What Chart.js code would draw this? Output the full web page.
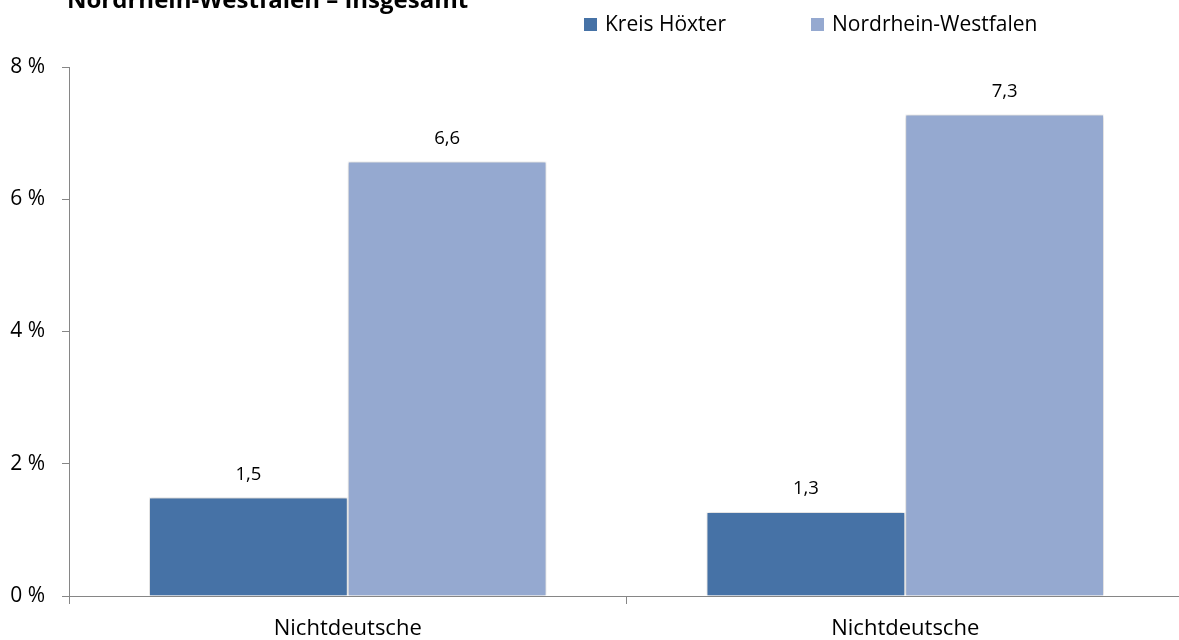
<!DOCTYPE html>
<html>
<head>
<meta charset="utf-8">
<script src="https://cdn.jsdelivr.net/npm/chart.js@4/dist/chart.umd.min.js"></script>
<style>
  html, body { margin: 0; padding: 0; background: #fff; overflow: hidden; }
  #wrap { width: 1184px; height: 640px; }
</style>
</head>
<body>
<div id="wrap"><canvas id="c" width="1184" height="640"></canvas></div>
<script>
const chartTitle = 'Nordrhein-Westfalen – Insgesamt';
const categories = ['Nichtdeutsche', 'Nichtdeutsche'];
const seriesNames = ['Kreis Höxter', 'Nordrhein-Westfalen'];
const kreisHoexter = [1.49, 1.27];
const nordrheinWestfalen = [6.57, 7.28];
const seriesColors = ['#4672A6', '#95A9D0'];
const yTicks = [0, 2, 4, 6, 8];

const FONT = "'Open Sans', 'Noto Sans', sans-serif";
const AXIS = '#868686';

const fmt = v => v.toFixed(1).replace('.', ',');

const shadowPlugin = {
  id: 'barShadow',
  beforeDatasetsDraw(chart) {
    const ctx = chart.ctx;
    ctx.save();
    ctx.shadowColor = 'rgba(0,0,0,0.28)';
    ctx.shadowBlur = 4;
    ctx.shadowOffsetX = 0;
    ctx.shadowOffsetY = 0;
  },
  afterDatasetsDraw(chart) {
    chart.ctx.restore();
  }
};

const labelsPlugin = {
  id: 'valueLabels',
  afterDatasetsDraw(chart) {
    const ctx = chart.ctx;
    ctx.save();
    ctx.font = '18.5px ' + FONT;
    ctx.fillStyle = '#000';
    ctx.textAlign = 'center';
    ctx.textBaseline = 'middle';
    chart.data.datasets.forEach((ds, i) => {
      chart.getDatasetMeta(i).data.forEach((bar, j) => {
        ctx.fillText(fmt(ds.data[j]), bar.x, bar.y - 23);
      });
    });
    ctx.restore();
  }
};

const titleLegendPlugin = {
  id: 'titleLegend',
  afterDraw(chart) {
    const ctx = chart.ctx;
    ctx.save();
    // title (partially cut off at top, like reference)
    ctx.font = 'bold 24px ' + FONT;
    ctx.fillStyle = '#000';
    ctx.textAlign = 'left';
    ctx.textBaseline = 'alphabetic';
    ctx.fillText(chartTitle, 67, 8);
    // legend
    ctx.font = '21px ' + FONT;
    ctx.textBaseline = 'middle';
    const starts = [584, 811];
    chart.data.datasets.forEach((ds, i) => {
      const x = starts[i];
      ctx.fillStyle = ds.backgroundColor;
      ctx.fillRect(x, 18, 13, 13);
      ctx.fillStyle = '#000';
      ctx.fillText(ds.label, x + 21, 25);
    });
    ctx.restore();
  }
};

new Chart(document.getElementById('c'), {
  type: 'bar',
  data: {
    labels: categories,
    datasets: [
      { label: seriesNames[0], data: kreisHoexter, backgroundColor: seriesColors[0], borderColor: '#ffffff', borderWidth: 1 },
      { label: seriesNames[1], data: nordrheinWestfalen, backgroundColor: seriesColors[1], borderColor: '#ffffff', borderWidth: 1 }
    ]
  },
  options: {
    responsive: false,
    animation: false,
    devicePixelRatio: 1,
    layout: { padding: { top: 67, left: 0, right: 0, bottom: 0 } },
    datasets: { bar: { categoryPercentage: 0.713, barPercentage: 1.0 } },
    plugins: {
      legend: { display: false },
      title: { display: false },
      tooltip: { enabled: false }
    },
    scales: {
      x: {
        grid: { display: true, drawOnChartArea: false, drawTicks: true, tickLength: 8, color: AXIS, offset: true },
        border: { color: AXIS, width: 1 },
        ticks: { color: '#000', font: { family: FONT, size: 22 }, padding: 12 },
        afterFit(scale) { scale.height = 44; }
      },
      y: {
        min: 0, max: 8,
        afterBuildTicks(scale) { scale.ticks = yTicks.map(v => ({ value: v })); },
        grid: { display: true, drawOnChartArea: false, drawTicks: true, tickLength: 7, color: AXIS },
        border: { color: AXIS, width: 1 },
        ticks: { color: '#000', font: { family: FONT, size: 21 }, padding: 17, callback: v => v + ' %' },
        afterFit(scale) { scale.width = 69; }
      }
    }
  },
  plugins: [shadowPlugin, labelsPlugin, titleLegendPlugin]
});
</script>
</body>
</html>
